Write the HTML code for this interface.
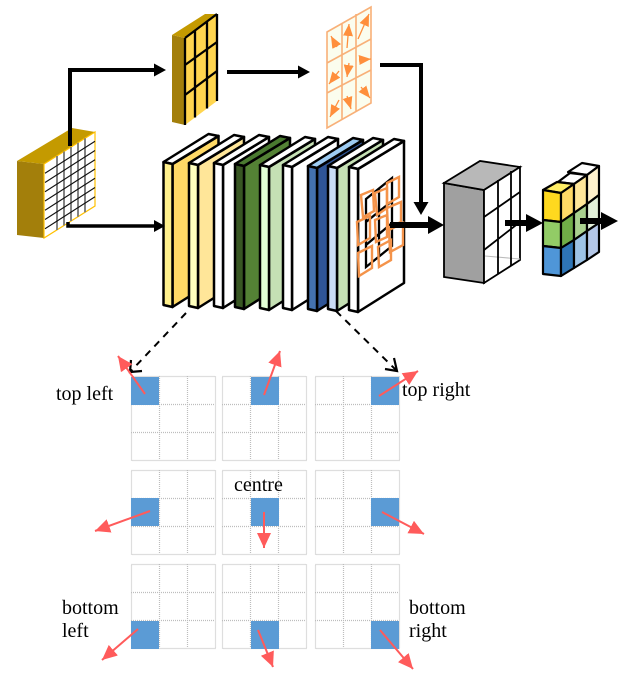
<!DOCTYPE html>
<html>
<head>
<meta charset="utf-8">
<style>
html,body{margin:0;padding:0;background:#fff}
svg{display:block;filter:blur(0.35px)}
text{font-family:"Liberation Serif",serif;font-size:20px;fill:#000}
.s,.t,.f{stroke:#000;stroke-width:2.5;stroke-linejoin:round}
.o{fill:none;stroke:#F4934A;stroke-width:2.4}
.r{stroke:#FF5B5B;stroke-width:2;fill:none}
.a{stroke:#FF8F3C;stroke-width:1.3;fill:none}
.ol{stroke:#F8B078;stroke-width:1.6;fill:none}
</style>
</head>
<body>
<svg width="624" height="678" viewBox="0 0 624 678" xmlns="http://www.w3.org/2000/svg">
<defs>
<marker id="mr" markerUnits="userSpaceOnUse" markerWidth="17" markerHeight="15" refX="15" refY="7" orient="auto"><path d="M0,0L15,7L0,14z" fill="#FF5B5B"/></marker>
<marker id="ma" markerUnits="userSpaceOnUse" markerWidth="13" markerHeight="11" refX="12" refY="5" orient="auto"><path d="M0,0L12,5L0,10z" fill="#FF8F3C"/></marker>
<g id="grid" fill="none" stroke="#bdbdbd" stroke-width="1.2" stroke-dasharray="1 1">
<rect x="0.5" y="0.5" width="84" height="84"/>
<path d="M28.5,0V84M56.5,0V84M0,28.5H84M0,56.5H84"/>
</g>
</defs>

<!-- input block -->
<polygon points="17,161 44,164 44,238 17,235" fill="#A37F0B"/>
<polygon points="17,161 72,128 95,132 44,164" fill="#C49A00"/>
<polygon points="44,164 95,132 95,206 44,238" fill="#fff" stroke="#FFC000" stroke-width="1.2"/>
<path d="M57,156V230M64,151.500V225.500M71,147V221M78,142.700V216.700M85,138.300V212.300" stroke="#777" stroke-width="1.800"/>
<path d="M45,173.250L95,141.250M45,182.500L95,150.500M45,191.750L95,159.750M45,201L95,169M45,210.250L95,178.250M45,219.500L95,187.500M45,228.750L95,196.750" stroke="#111" stroke-width="1.100"/>

<!-- small block -->
<polygon points="172,35 185,38 185,125 172,122" fill="#A37F0B"/>
<polygon points="172,35 205,14 217,14 185,38" fill="#C49A00"/>
<polygon points="185,38 217,14 217,101 185,125" fill="#FFD54F"/>
<path d="M185,38L217,14M217,14V101M185,38V125M195,30.500V117.500M207,21.500V108.500M185,65L217,42M185,95L217,71" stroke="#000" stroke-width="2.300" fill="none"/>

<!-- orange arrow field -->
<polygon points="327,32 371,7 371,103 327,128" fill="#FBFDEE"/>
<path class="ol" d="M327,32L371,7V103L327,128ZM342,24V120M356,14V111M327,63L371,39M327,93L371,70"/>
<g class="a">
<line x1="337" y1="47" x2="331" y2="36" marker-end="url(#ma)"/>
<line x1="347" y1="48" x2="349" y2="24" marker-end="url(#ma)"/>
<line x1="358" y1="39" x2="369" y2="14" marker-end="url(#ma)"/>
<line x1="339" y1="71" x2="329" y2="84" marker-end="url(#ma)"/>
<line x1="349" y1="63" x2="347" y2="77" marker-end="url(#ma)"/>
<line x1="359" y1="60" x2="371" y2="59" marker-end="url(#ma)"/>
<line x1="339" y1="100" x2="330" y2="117" marker-end="url(#ma)"/>
<line x1="347" y1="96" x2="351" y2="109" marker-end="url(#ma)"/>
<line x1="361" y1="87" x2="370" y2="98" marker-end="url(#ma)"/>
</g>

<!-- layers -->
<g transform="translate(163.500,162)"><polygon class="f" points="9,2 55,-26 55,116 9,145" fill="#FFD966"/><polygon class="t" points="0,0 45,-28 55,-26 9,2" fill="#fff"/><polygon class="s" points="0,0 9,2 9,145 0,143" fill="#FFF08C"/></g>
<g transform="translate(189,163)"><polygon class="f" points="9,2 55,-26 55,116 9,145" fill="#FFE699"/><polygon class="t" points="0,0 45,-28 55,-26 9,2" fill="#fff"/><polygon class="s" points="0,0 9,2 9,145 0,143" fill="#FFFFBE"/></g>
<g transform="translate(214,163)"><polygon class="f" points="9,2 55,-26 55,116 9,145" fill="#fff"/><polygon class="t" points="0,0 45,-28 55,-26 9,2" fill="#fff"/><polygon class="s" points="0,0 9,2 9,145 0,143" fill="#fff"/></g>
<g transform="translate(235,164)"><polygon class="f" points="9,2 55,-26 55,116 9,145" fill="#548235"/><polygon class="t" points="0,0 45,-28 55,-26 9,2" fill="#4A7A30"/><polygon class="s" points="0,0 9,2 9,145 0,143" fill="#385723"/></g>
<g transform="translate(260,165)"><polygon class="f" points="9,2 55,-26 55,116 9,145" fill="#C5E0B4"/><polygon class="t" points="0,0 45,-28 55,-26 9,2" fill="#fff"/><polygon class="s" points="0,0 9,2 9,145 0,143" fill="#E2FFD6"/></g>
<g transform="translate(283,165)"><polygon class="f" points="9,2 55,-26 55,116 9,145" fill="#fff"/><polygon class="t" points="0,0 45,-28 55,-26 9,2" fill="#fff"/><polygon class="s" points="0,0 9,2 9,145 0,143" fill="#fff"/></g>
<g transform="translate(308,166)"><polygon class="f" points="9,2 55,-26 55,116 9,145" fill="#2F5597"/><polygon class="t" points="0,0 45,-28 55,-26 9,2" fill="#9DCBF2"/><polygon class="s" points="0,0 9,2 9,145 0,143" fill="#4472B0"/></g>
<g transform="translate(328,166)"><polygon class="f" points="9,2 55,-26 55,116 9,145" fill="#C5E0B4"/><polygon class="t" points="0,0 45,-28 55,-26 9,2" fill="#fff"/><polygon class="s" points="0,0 9,2 9,145 0,143" fill="#C9DBF4"/></g>
<g transform="translate(349,167)"><polygon class="f" points="9,2 55,-26 55,116 9,145" fill="#fff"/><polygon class="t" points="0,0 45,-28 55,-26 9,2" fill="#fff"/><polygon class="s" points="0,0 9,2 9,145 0,143" fill="#fff"/></g>

<!-- proposals -->
<path d="M366,199L392,178V246L366,267ZM379,188V256M366,222L392,201M366,245L392,223" fill="none" stroke="#000" stroke-width="2.300"/>
<polygon class="o" points="361,195 373,190 374,211 363,217"/>
<polygon class="o" points="357,222 370,216 370,238 358,245"/>
<polygon class="o" points="358,253 372,246 372,268 359,276"/>
<polygon class="o" points="375,193 387,188 387,208 377,215"/>
<polygon class="o" points="375,220 387,215 387,237 376,242"/>
<polygon class="o" points="378,247 391,240 391,260 379,267"/>
<polygon class="o" points="387,183 399,177 399,197 387,204"/>
<polygon class="o" points="387,208 401,202 401,222 388,228"/>
<polygon class="o" points="389,230 403,223 403,245 390,252"/>

<!-- gray block -->
<polygon points="444,183 484,190 484,283 444,277" fill="#A0A0A0" stroke="#000" stroke-width="1.800"/>
<polygon points="444,183 480,161 520,167 484,190" fill="#B8B8B8" stroke="#000" stroke-width="1.800"/>
<polygon points="484,190 520,167 520,260 484,283" fill="#fff" stroke="#000" stroke-width="1.800"/>
<path d="M485,256L520,259" stroke="#bbb" stroke-width="1"/>
<path d="M498,180V274M511,171V266M484,217L520,192M484,250L520,222" stroke="#000" stroke-width="1.800" fill="none"/>

<!-- coloured stack -->
<g stroke="#000" stroke-width="2.200" stroke-linejoin="round">
<polygon points="568,172 582,163 599,166 587,175" fill="#fff"/>
<polygon points="558,182 570,173 587,175 574,184" fill="#fff"/>
<polygon points="543,190 557,182 574,184 561,193" fill="#FFEE66"/>
<polygon points="543,190 561,193 561,222 543,220" fill="#FFD91F"/>
<polygon points="543,220 561,222 561,248 543,246" fill="#92CC66"/>
<polygon points="543,246 561,248 561,276 543,274" fill="#4F96D8"/>
<polygon points="561,193 574,184 574,213 561,222" fill="#FFD966"/>
<polygon points="561,222 574,213 574,240 561,248" fill="#70AD47"/>
<polygon points="561,248 574,240 574,268 561,276" fill="#2E75B6"/>
<polygon points="574,184 587,175 587,204 574,213" fill="#FFE699"/>
<polygon points="574,213 587,204 587,231 574,240" fill="#A9D18E"/>
<polygon points="574,240 587,231 587,260 574,268" fill="#9DC3E6"/>
<polygon points="587,175 599,166 599,195 587,204" fill="#FFF2CC"/>
<polygon points="587,204 599,195 599,223 587,231" fill="#E2F0D9"/>
<polygon points="587,231 599,223 599,252 587,260" fill="#B4C7E7"/>
</g>

<!-- black arrows -->
<g fill="none" stroke="#000">
<path d="M70,146V70H155" stroke-width="4"/>
<path d="M68,222V226H156" stroke-width="3.500"/>
<path d="M227,72H300" stroke-width="4"/>
<path d="M380,65H421V204" stroke-width="4"/>
<path d="M390,225H431" stroke-width="6"/>
<path d="M505,223H528" stroke-width="6"/>
<path d="M580,221H603" stroke-width="6"/>
</g>
<g fill="#000">
<polygon points="154,63.500 166,70 154,76.500"/>
<polygon points="154,220 165,226 154,232"/>
<polygon points="298,65.500 310,72 298,78.500"/>
<polygon points="413.500,202 428.500,202 421,215"/>
<polygon points="428,216 444,225 428,234"/>
<polygon points="526,214 543,223 526,232"/>
<polygon points="601,212 618,221 601,230"/>
</g>

<!-- dashed connectors -->
<path d="M186,313L131,371" stroke="#000" stroke-width="2" stroke-dasharray="7 6" fill="none"/>
<path d="M336,311L396,370" stroke="#000" stroke-width="2" stroke-dasharray="7 6" fill="none"/>
<path d="M131,360L130,372L142,371" stroke="#000" stroke-width="2.200" fill="none"/>
<path d="M385,369L397,371L394,358" stroke="#000" stroke-width="2.200" fill="none"/>

<!-- grids -->
<use href="#grid" x="131" y="376"/><use href="#grid" x="222" y="376"/><use href="#grid" x="315" y="376"/>
<use href="#grid" x="131" y="470"/><use href="#grid" x="222" y="470"/><use href="#grid" x="315" y="470"/>
<use href="#grid" x="131" y="564"/><use href="#grid" x="222" y="564"/><use href="#grid" x="315" y="564"/>
<g fill="#5B9BD5">
<rect x="131" y="377" width="28" height="28"/><rect x="251" y="377" width="28" height="28"/><rect x="371" y="377" width="28" height="28"/>
<rect x="131" y="498" width="28" height="28"/><rect x="251" y="498" width="28" height="28"/><rect x="371" y="498" width="28" height="28"/>
<rect x="131" y="621" width="28" height="28"/><rect x="251" y="621" width="28" height="28"/><rect x="371" y="621" width="28" height="28"/>
</g>

<!-- red arrows -->
<line class="r" x1="145" y1="394" x2="118" y2="356" marker-end="url(#mr)"/>
<line class="r" x1="264" y1="395" x2="280" y2="351" marker-end="url(#mr)"/>
<line class="r" x1="379" y1="396" x2="418" y2="371" marker-end="url(#mr)"/>
<line class="r" x1="150" y1="511" x2="95" y2="531" marker-end="url(#mr)"/>
<line class="r" x1="264" y1="512" x2="264" y2="548" marker-end="url(#mr)"/>
<line class="r" x1="382" y1="512" x2="424" y2="534" marker-end="url(#mr)"/>
<line class="r" x1="138" y1="629" x2="102" y2="660" marker-end="url(#mr)"/>
<line class="r" x1="258" y1="630" x2="273" y2="667" marker-end="url(#mr)"/>
<line class="r" x1="380" y1="630" x2="413" y2="669" marker-end="url(#mr)"/>

<!-- labels -->
<text x="56" y="400">top left</text>
<text x="402" y="396">top right</text>
<text x="234" y="491">centre</text>
<text x="62" y="614">bottom</text>
<text x="62" y="637">left</text>
<text x="409" y="614">bottom</text>
<text x="409" y="637">right</text>
</svg>
</body>
</html>
